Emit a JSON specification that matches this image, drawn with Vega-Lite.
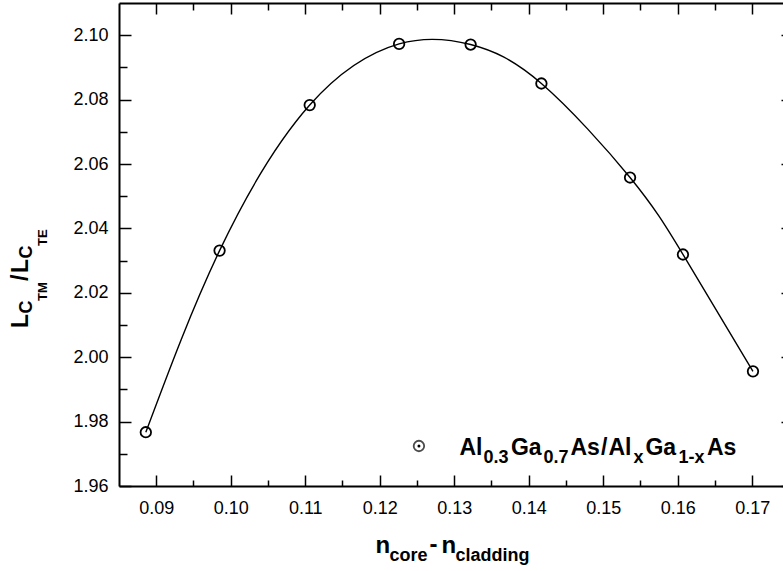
{
  "$schema": "https://vega.github.io/schema/vega-lite/v6.json",
  "width": 664,
  "height": 483,
  "autosize": {"type": "none"},
  "padding": {"left": 119, "top": 3, "right": 0, "bottom": 85},
  "background": "white",
  "datasets": {
    "pts": [
      {"dn": 0.0886, "ratio": 1.9767},
      {"dn": 0.0985, "ratio": 2.0331},
      {"dn": 0.1106, "ratio": 2.0783},
      {"dn": 0.1226, "ratio": 2.0973},
      {"dn": 0.1322, "ratio": 2.0971},
      {"dn": 0.1417, "ratio": 2.0850},
      {"dn": 0.1536, "ratio": 2.0558},
      {"dn": 0.1607, "ratio": 2.0319},
      {"dn": 0.1701, "ratio": 1.9956}
    ],
    "one": [{}]
  },
  "resolve": {"axis": {"x": "independent", "y": "independent"}},
  "layer": [
    {
      "data": {"name": "pts"},
      "mark": {"type": "line", "interpolate": "natural", "color": "black", "strokeWidth": 1.4},
      "encoding": {
        "x": {"field": "dn", "type": "quantitative",
              "scale": {"domain": [0.085, 0.17413], "nice": false, "zero": false},
              "axis": {"orient": "bottom", "title": null, "values": [0.09, 0.1, 0.11, 0.12, 0.13, 0.14, 0.15, 0.16, 0.17],
                       "format": ".2f", "tickSize": -11, "labelPadding": 24}},
        "y": {"field": "ratio", "type": "quantitative",
              "scale": {"domain": [1.96, 2.11], "nice": false, "zero": false},
              "axis": {"orient": "left", "title": null, "values": [1.96, 1.98, 2.0, 2.02, 2.04, 2.06, 2.08, 2.1],
                       "format": ".2f", "tickSize": -12, "labelPadding": 23}}
      }
    },
    {
      "data": {"name": "pts"},
      "mark": {"type": "point", "shape": "circle", "filled": false, "color": "black", "strokeWidth": 1.8, "size": 110, "opacity": 1},
      "encoding": {
        "x": {"field": "dn", "type": "quantitative",
              "scale": {"domain": [0.085, 0.17413], "nice": false, "zero": false},
              "axis": {"orient": "bottom", "title": null, "values": [0.095, 0.105, 0.115, 0.125, 0.135, 0.145, 0.155, 0.165],
                       "labels": false, "domain": false, "tickSize": -6}},
        "y": {"field": "ratio", "type": "quantitative",
              "scale": {"domain": [1.96, 2.11], "nice": false, "zero": false},
              "axis": {"orient": "left", "title": null, "values": [1.97, 1.99, 2.01, 2.03, 2.05, 2.07, 2.09],
                       "labels": false, "domain": false, "tickSize": -8}}
      }
    },
    {
      "data": {"name": "pts"},
      "mark": {"type": "point", "opacity": 0},
      "encoding": {
        "x": {"field": "dn", "type": "quantitative",
              "scale": {"domain": [0.085, 0.17413], "nice": false, "zero": false},
              "axis": {"orient": "top", "title": null, "values": [0.09, 0.1, 0.11, 0.12, 0.13, 0.14, 0.15, 0.16, 0.17],
                       "labels": false, "tickSize": -11}},
        "y": {"field": "ratio", "type": "quantitative",
              "scale": {"domain": [1.96, 2.11], "nice": false, "zero": false},
              "axis": {"orient": "right", "title": null, "values": [1.96, 1.98, 2.0, 2.02, 2.04, 2.06, 2.08, 2.1],
                       "labels": false, "domain": false, "tickSize": -2}}
      }
    },
    {
      "data": {"name": "pts"},
      "mark": {"type": "point", "opacity": 0},
      "encoding": {
        "x": {"field": "dn", "type": "quantitative",
              "scale": {"domain": [0.085, 0.17413], "nice": false, "zero": false},
              "axis": {"orient": "top", "title": null, "values": [0.095, 0.105, 0.115, 0.125, 0.135, 0.145, 0.155, 0.165],
                       "labels": false, "domain": false, "tickSize": -7}},
        "y": {"field": "ratio", "type": "quantitative",
              "scale": {"domain": [1.96, 2.11], "nice": false, "zero": false},
              "axis": null}
      }
    },
    {
      "data": {"name": "one"},
      "layer": [
        {"mark": {"type": "point", "shape": "circle", "filled": false, "color": "black", "strokeWidth": 1.8, "size": 110}},
        {"mark": {"type": "point", "shape": "circle", "filled": true, "color": "black", "size": 9, "opacity": 1}}
      ],
      "encoding": {
        "x": {"datum": 0.12526, "type": "quantitative", "scale": {"domain": [0.085, 0.17413], "nice": false, "zero": false}, "axis": null},
        "y": {"datum": 1.97242, "type": "quantitative", "scale": {"domain": [1.96, 2.11], "nice": false, "zero": false}, "axis": null}
      }
    },
    {
      "data": {"name": "one"},
      "encoding": {
        "x": {"datum": 0.1307, "type": "quantitative", "scale": {"domain": [0.085, 0.17413], "nice": false, "zero": false}, "axis": null},
        "y": {"datum": 1.96963, "type": "quantitative", "scale": {"domain": [1.96, 2.11], "nice": false, "zero": false}, "axis": null}
      },
      "layer": [
        {"mark": {"type": "text", "text": "Al", "font": "Liberation Sans", "fontWeight": "bold", "fontSize": 23, "align": "left", "baseline": "alphabetic", "color": "black", "dx": 0}},
        {"mark": {"type": "text", "text": "0.3", "font": "Liberation Sans", "fontWeight": "bold", "fontSize": 18, "align": "left", "baseline": "alphabetic", "color": "black", "dx": 24, "dy": 8}},
        {"mark": {"type": "text", "text": "Ga", "font": "Liberation Sans", "fontWeight": "bold", "fontSize": 23, "align": "left", "baseline": "alphabetic", "color": "black", "dx": 51.5}},
        {"mark": {"type": "text", "text": "0.7", "font": "Liberation Sans", "fontWeight": "bold", "fontSize": 18, "align": "left", "baseline": "alphabetic", "color": "black", "dx": 84, "dy": 8}},
        {"mark": {"type": "text", "text": "As", "font": "Liberation Sans", "fontWeight": "bold", "fontSize": 23, "align": "left", "baseline": "alphabetic", "color": "black", "dx": 111}},
        {"mark": {"type": "text", "text": "/", "font": "Liberation Sans", "fontWeight": "bold", "fontSize": 23, "align": "left", "baseline": "alphabetic", "color": "black", "dx": 141.5}},
        {"mark": {"type": "text", "text": "Al", "font": "Liberation Sans", "fontWeight": "bold", "fontSize": 23, "align": "left", "baseline": "alphabetic", "color": "black", "dx": 149}},
        {"mark": {"type": "text", "text": "x", "font": "Liberation Sans", "fontWeight": "bold", "fontSize": 18, "align": "left", "baseline": "alphabetic", "color": "black", "dx": 174, "dy": 8}},
        {"mark": {"type": "text", "text": "Ga", "font": "Liberation Sans", "fontWeight": "bold", "fontSize": 23, "align": "left", "baseline": "alphabetic", "color": "black", "dx": 186}},
        {"mark": {"type": "text", "text": "1-x", "font": "Liberation Sans", "fontWeight": "bold", "fontSize": 18, "align": "left", "baseline": "alphabetic", "color": "black", "dx": 219, "dy": 8}},
        {"mark": {"type": "text", "text": "As", "font": "Liberation Sans", "fontWeight": "bold", "fontSize": 23, "align": "left", "baseline": "alphabetic", "color": "black", "dx": 247.5}}
      ]
    },
    {
      "data": {"name": "one"},
      "encoding": {
        "x": {"datum": 0.11942, "type": "quantitative", "scale": {"domain": [0.085, 0.17413], "nice": false, "zero": false}, "axis": null},
        "y": {"datum": 1.93919, "type": "quantitative", "scale": {"domain": [1.96, 2.11], "nice": false, "zero": false}, "axis": null}
      },
      "layer": [
        {"mark": {"type": "text", "text": "n", "font": "Liberation Sans", "fontWeight": "bold", "fontSize": 24, "align": "left", "baseline": "alphabetic", "color": "black", "dx": 0}},
        {"mark": {"type": "text", "text": "core", "font": "Liberation Sans", "fontWeight": "bold", "fontSize": 18, "align": "left", "baseline": "alphabetic", "color": "black", "dx": 14, "dy": 8}},
        {"mark": {"type": "text", "text": "-", "font": "Liberation Sans", "fontWeight": "bold", "fontSize": 24, "align": "left", "baseline": "alphabetic", "color": "black", "dx": 54, "dy": -1}},
        {"mark": {"type": "text", "text": "n", "font": "Liberation Sans", "fontWeight": "bold", "fontSize": 24, "align": "left", "baseline": "alphabetic", "color": "black", "dx": 66}},
        {"mark": {"type": "text", "text": "cladding", "font": "Liberation Sans", "fontWeight": "bold", "fontSize": 18, "align": "left", "baseline": "alphabetic", "color": "black", "dx": 80, "dy": 8}}
      ]
    },
    {
      "data": {"name": "one"},
      "encoding": {
        "x": {"datum": 0.07278, "type": "quantitative", "scale": {"domain": [0.085, 0.17413], "nice": false, "zero": false}, "axis": null},
        "y": {"datum": 2.00907, "type": "quantitative", "scale": {"domain": [1.96, 2.11], "nice": false, "zero": false}, "axis": null}
      },
      "layer": [
        {"mark": {"type": "text", "text": "L", "angle": 270, "font": "Liberation Sans", "fontWeight": "bold", "fontSize": 23, "align": "left", "baseline": "alphabetic", "color": "black", "dx": 0}},
        {"mark": {"type": "text", "text": "C", "angle": 270, "font": "Liberation Sans", "fontWeight": "bold", "fontSize": 18, "align": "left", "baseline": "alphabetic", "color": "black", "dx": 14.5, "dy": 4}},
        {"mark": {"type": "text", "text": "TM", "angle": 270, "font": "Liberation Sans", "fontWeight": "bold", "fontSize": 13, "align": "left", "baseline": "alphabetic", "color": "black", "dx": 27, "dy": 19}},
        {"mark": {"type": "text", "text": "/", "angle": 270, "font": "Liberation Sans", "fontWeight": "bold", "fontSize": 23, "align": "left", "baseline": "alphabetic", "color": "black", "dx": 47}},
        {"mark": {"type": "text", "text": "L", "angle": 270, "font": "Liberation Sans", "fontWeight": "bold", "fontSize": 23, "align": "left", "baseline": "alphabetic", "color": "black", "dx": 55}},
        {"mark": {"type": "text", "text": "C", "angle": 270, "font": "Liberation Sans", "fontWeight": "bold", "fontSize": 18, "align": "left", "baseline": "alphabetic", "color": "black", "dx": 69.5, "dy": 4}},
        {"mark": {"type": "text", "text": "TE", "angle": 270, "font": "Liberation Sans", "fontWeight": "bold", "fontSize": 13, "align": "left", "baseline": "alphabetic", "color": "black", "dx": 82, "dy": 19}}
      ]
    }
  ],
  "config": {
    "view": {"stroke": null},
    "axis": {
      "grid": false,
      "domainColor": "black",
      "domainWidth": 2,
      "tickColor": "black",
      "tickWidth": 1.5,
      "labelColor": "black",
      "labelFont": "Liberation Sans",
      "labelFontSize": 18
    }
  }
}
